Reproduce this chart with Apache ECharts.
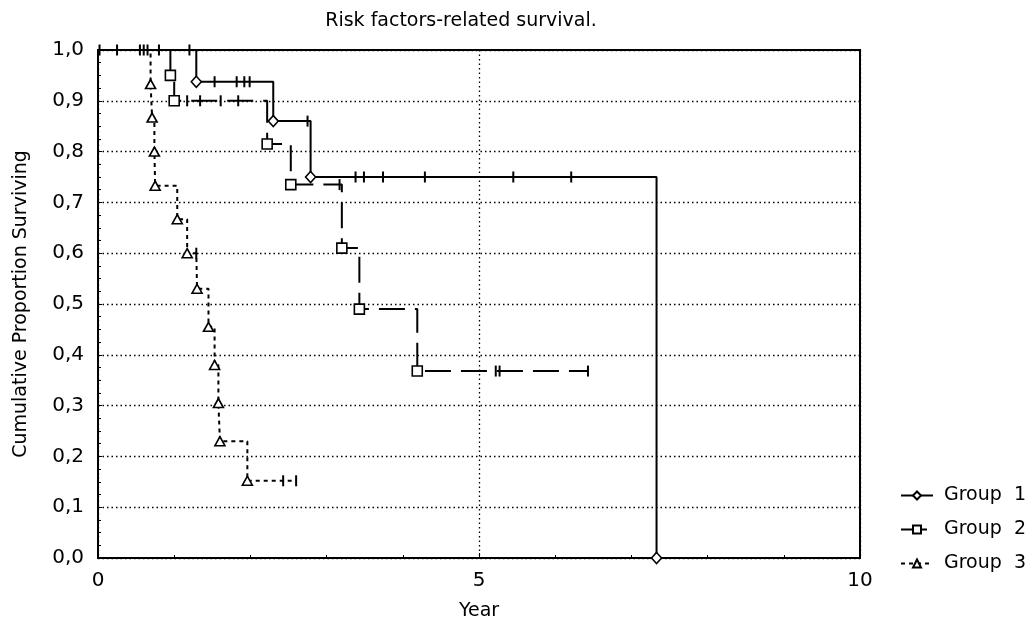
<!DOCTYPE html>
<html>
<head>
<meta charset="utf-8">
<script src="https://cdn.jsdelivr.net/npm/echarts@6/dist/echarts.min.js"></script>
<style>
  html, body { margin: 0; padding: 0; background: #fff; }
  #chart { width: 1026px; height: 624px; }
</style>
</head>
<body>
<div id="chart"></div>
<script>
// ---- Data ----
const groupNames = ['Group  1', 'Group  2', 'Group  3'];

// Group 1 (solid line, diamond markers)
const g1EventTime = [1.29, 2.30, 2.79, 7.33];
const g1EventSurv = [0.9375, 0.86, 0.75, 0.0];
const g1CensorTime = [0.25, 0.65, 1.20, 1.53, 1.82, 1.92, 1.99, 2.75, 3.38, 3.49, 3.74, 4.29, 5.45, 6.21];

// Group 2 (long dashes, square markers)
const g2EventTime = [0.95, 1.00, 2.22, 2.53, 3.20, 3.43, 4.19];
const g2EventSurv = [0.95, 0.90, 0.815, 0.735, 0.61, 0.49, 0.368];
const g2CensorTime = [0.60, 0.80, 1.17, 1.34, 1.61, 1.84, 3.17, 5.22, 5.27, 6.43];

// Group 3 (short dashes, triangle markers)
const g3EventTime = [0.69, 0.71, 0.74, 0.75, 1.04, 1.17, 1.30, 1.45, 1.53, 1.58, 1.60, 1.96];
const g3EventSurv = [0.933, 0.867, 0.80, 0.733, 0.667, 0.60, 0.53, 0.455, 0.38, 0.305, 0.23, 0.152];
const g3CensorTime = [0.02, 0.55, 1.29, 2.43, 2.60];

const yTickLabels = ['0,0','0,1','0,2','0,3','0,4','0,5','0,6','0,7','0,8','0,9','1,0'];
const xTickLabels = ['0', '5', '10'];

// ---- Build Kaplan–Meier step data ----
function buildKM(evT, evS, cT, eventSymbol, eventSize) {
  const items = [];
  evT.forEach((t, i) => items.push({ t: t, kind: 'e', s: evS[i] }));
  cT.forEach(t => items.push({ t: t, kind: 'c' }));
  items.sort((a, b) => a.t - b.t || (a.kind === 'c' ? -1 : 1));
  let level = 1.0;
  const data = [{ value: [0, 1.0], symbol: 'none' }];
  items.forEach(it => {
    if (it.kind === 'e') {
      level = it.s;
      data.push({
        value: [it.t, level],
        symbol: eventSymbol,
        symbolSize: eventSize,
        itemStyle: { color: '#fff', borderColor: '#000', borderWidth: 1.6 }
      });
    } else {
      data.push({
        value: [it.t, level],
        symbol: 'rect',
        symbolSize: [2, 11],
        itemStyle: { color: '#000', borderWidth: 0 }
      });
    }
  });
  return data;
}

const g1Data = buildKM(g1EventTime, g1EventSurv, g1CensorTime, 'diamond', [10, 11]);
const g2Data = buildKM(g2EventTime, g2EventSurv, g2CensorTime, 'rect', [10, 10]);
const g3Data = buildKM(g3EventTime, g3EventSurv, g3CensorTime, 'triangle', [10, 9]);

function kmSeries(name, data, symbol, lineType) {
  return {
    name: name,
    type: 'line',
    step: 'end',
    data: data,
    symbol: symbol,
    symbolSize: 9,
    showSymbol: true,
    showAllSymbol: true,
    clip: false,
    lineStyle: { color: '#000', width: 2, type: lineType },
    itemStyle: { color: '#fff', borderColor: '#000', borderWidth: 1.5 },
    emphasis: { disabled: true },
    z: 3
  };
}

const chart = echarts.init(document.getElementById('chart'), null, { renderer: 'canvas' });
const font = '"DejaVu Sans", Verdana, sans-serif';

chart.setOption({
  animation: false,
  backgroundColor: '#fff',
  title: {
    text: 'Risk factors-related survival.',
    left: 456, top: 7, textAlign: 'center',
    textStyle: { fontFamily: font, fontSize: 19, fontWeight: 'normal', color: '#000' }
  },
  legend: {
    orient: 'vertical',
    left: 895, top: 481,
    itemWidth: 32, itemHeight: 10, itemGap: 15,
    data: groupNames,
    textStyle: { fontFamily: font, fontSize: 19, color: '#000', padding: [0, 0, 0, 6] },
    selectedMode: false
  },
  grid: {
    left: 98, right: 166, top: 50, bottom: 66,
    containLabel: false, outerBoundsMode: 'none',
    show: true, borderColor: '#000', borderWidth: 2, backgroundColor: 'transparent'
  },
  xAxis: {
    type: 'value', min: 0, max: 10, interval: 5,
    name: 'Year', nameLocation: 'middle', nameGap: 44,
    nameTextStyle: { fontFamily: font, fontSize: 19, color: '#000' },
    axisLine: { show: true, lineStyle: { color: '#000', width: 2 } },
    axisTick: { show: true, inside: true, length: 5, lineStyle: { color: '#000' } },
    minorTick: { show: true, splitNumber: 5, length: 3, lineStyle: { color: '#000' } },
    axisLabel: {
      fontFamily: font, fontSize: 20, color: '#000', margin: 13,
      formatter: v => xTickLabels[Math.round(v / 5)] ?? ''
    },
    splitLine: { show: true, lineStyle: { color: '#000', width: 1.3, type: [1.5, 3] } }
  },
  yAxis: {
    type: 'value', min: 0, max: 1, interval: 0.1,
    name: 'Cumulative Proportion Surviving', nameLocation: 'middle', nameGap: 67,
    nameTextStyle: { fontFamily: font, fontSize: 19, color: '#000' },
    axisLine: { show: true, lineStyle: { color: '#000', width: 2 } },
    axisTick: { show: true, inside: true, length: 4, lineStyle: { color: '#000' } },
    minorTick: { show: true, splitNumber: 4, length: 3, lineStyle: { color: '#000' } },
    axisLabel: {
      fontFamily: font, fontSize: 20, color: '#000', margin: 14,
      formatter: v => yTickLabels[Math.round(v * 10)] ?? ''
    },
    splitLine: { show: true, lineStyle: { color: '#000', width: 1.3, type: [1.5, 3] } }
  },
  series: [
    kmSeries(groupNames[0], g1Data, 'diamond', 'solid'),
    kmSeries(groupNames[1], g2Data, 'rect', [26, 10]),
    kmSeries(groupNames[2], g3Data, 'triangle', [4, 4])
  ]
});
</script>
</body>
</html>
